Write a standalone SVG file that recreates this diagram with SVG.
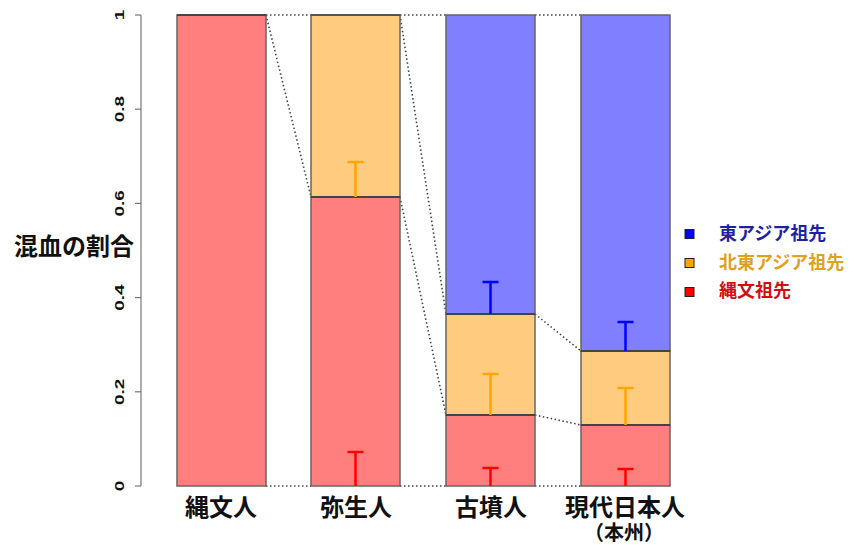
<svg xmlns="http://www.w3.org/2000/svg" width="854" height="545" viewBox="0 0 854 545">
<style>
.red{fill:#FF7F7F;stroke:#666;stroke-width:1.5}
.org{fill:#FFCC7F;stroke:#666;stroke-width:1.5}
.blu{fill:#7F7FFF;stroke:#666;stroke-width:1.5}
.dot{stroke:#444;stroke-width:1.6;stroke-dasharray:1.5 2.5;fill:none}
.eb{stroke-width:2.5;fill:none}
.tick{font-family:"Liberation Sans",Arial,sans-serif;font-size:13.5px;font-weight:bold;fill:#111;text-anchor:middle}
.jp{font-family:"Noto Sans CJK JP","Noto Sans CJK SC",sans-serif;font-weight:bold}
.xl{font-size:24px;fill:#111;text-anchor:middle}
.lg{font-size:18px}
</style>
<rect width="854" height="545" fill="#fff"/>
<g id="axis">
<line x1="141" y1="15" x2="141" y2="486" stroke="#777" stroke-width="1.2"/>
<g stroke="#777" stroke-width="1.2">
<line x1="135" y1="15" x2="141" y2="15"/>
<line x1="135" y1="109.2" x2="141" y2="109.2"/>
<line x1="135" y1="203.4" x2="141" y2="203.4"/>
<line x1="135" y1="297.6" x2="141" y2="297.6"/>
<line x1="135" y1="391.8" x2="141" y2="391.8"/>
<line x1="135" y1="486" x2="141" y2="486"/>
</g>
<text class="tick" transform="translate(124,15) rotate(-90) scale(1.4,1)">1</text>
<text class="tick" transform="translate(124,109.2) rotate(-90) scale(1.4,1)">0.8</text>
<text class="tick" transform="translate(124,203.4) rotate(-90) scale(1.4,1)">0.6</text>
<text class="tick" transform="translate(124,297.6) rotate(-90) scale(1.4,1)">0.4</text>
<text class="tick" transform="translate(124,391.8) rotate(-90) scale(1.4,1)">0.2</text>
<text class="tick" transform="translate(124,486) rotate(-90) scale(1.4,1)">0</text>
<text class="jp" x="14" y="255" font-size="24" fill="#111">混血の割合</text>
</g>
<g id="connectors">
<line class="dot" x1="266" y1="15" x2="311" y2="15"/>
<line class="dot" x1="266" y1="15" x2="311" y2="197"/>
<line class="dot" x1="266" y1="486" x2="311" y2="486"/>
<line class="dot" x1="400" y1="15" x2="446" y2="15"/>
<line class="dot" x1="400" y1="15" x2="446" y2="314"/>
<line class="dot" x1="400" y1="197" x2="446" y2="415"/>
<line class="dot" x1="400" y1="486" x2="446" y2="486"/>
<line class="dot" x1="535" y1="15" x2="581" y2="15"/>
<line class="dot" x1="535" y1="314" x2="581" y2="351"/>
<line class="dot" x1="535" y1="415" x2="581" y2="425"/>
<line class="dot" x1="535" y1="486" x2="581" y2="486"/>
</g>
<g id="bar-jomon">
<rect class="red" x="177" y="15" width="89" height="471"/>
<line x1="177" y1="15" x2="266" y2="15" stroke="#333" stroke-width="1.5"/>
<text class="jp xl" x="221" y="516">縄文人</text>
</g>
<g id="bar-yayoi">
<rect class="red" x="311" y="197" width="89" height="289"/>
<rect class="org" x="311" y="15" width="89" height="182"/>
<line x1="311" y1="197" x2="400" y2="197" stroke="#444" stroke-width="2"/>
<line x1="311" y1="15" x2="400" y2="15" stroke="#444" stroke-width="1.5"/>
<path class="eb" stroke="#FFA500" d="M355.5 197V162M347.5 162H363.5"/>
<path class="eb" stroke="#FF0000" d="M355.5 486V452M347.5 452H363.5"/>
<text class="jp xl" x="356" y="516">弥生人</text>
</g>
<g id="bar-kofun">
<rect class="red" x="446" y="415" width="89" height="71"/>
<rect class="org" x="446" y="314" width="89" height="101"/>
<rect class="blu" x="446" y="15" width="89" height="299"/>
<line x1="446" y1="415" x2="535" y2="415" stroke="#444" stroke-width="2"/>
<line x1="446" y1="314" x2="535" y2="314" stroke="#444" stroke-width="2"/>
<path class="eb" stroke="#0000FF" d="M490.5 314V282M482.5 282H498.5"/>
<path class="eb" stroke="#FFA500" d="M490.5 415V374M482.5 374H498.5"/>
<path class="eb" stroke="#FF0000" d="M490.5 486V468M482.5 468H498.5"/>
<text class="jp xl" x="491" y="516">古墳人</text>
</g>
<g id="bar-modern">
<rect class="red" x="581" y="425" width="89" height="61"/>
<rect class="org" x="581" y="351" width="89" height="74"/>
<rect class="blu" x="581" y="15" width="89" height="336"/>
<line x1="581" y1="425" x2="670" y2="425" stroke="#444" stroke-width="2"/>
<line x1="581" y1="351" x2="670" y2="351" stroke="#444" stroke-width="2"/>
<path class="eb" stroke="#0000FF" d="M625.5 351V322M617.5 322H633.5"/>
<path class="eb" stroke="#FFA500" d="M625.5 425V388M617.5 388H633.5"/>
<path class="eb" stroke="#FF0000" d="M625.5 486V469M617.5 469H633.5"/>
<text class="jp xl" x="625" y="516">現代日本人</text>
<text class="jp" x="624" y="540" font-size="20" fill="#111" text-anchor="middle">（本州）</text>
</g>
<g id="legend">
<rect x="685" y="229.5" width="9" height="9" fill="#0000FF" stroke="#222" stroke-width="1"/>
<rect x="685" y="258.5" width="9" height="9" fill="#FFA500" stroke="#222" stroke-width="1"/>
<rect x="685" y="287.5" width="9" height="9" fill="#FF0000" stroke="#222" stroke-width="1"/>
<text class="jp lg" x="719" y="240" fill="#1F1FA8">東アジア祖先</text>
<text class="jp lg" x="719" y="269" fill="#E0A020">北東アジア祖先</text>
<text class="jp lg" x="719" y="297" fill="#D01010">縄文祖先</text>
</g>
</svg>
